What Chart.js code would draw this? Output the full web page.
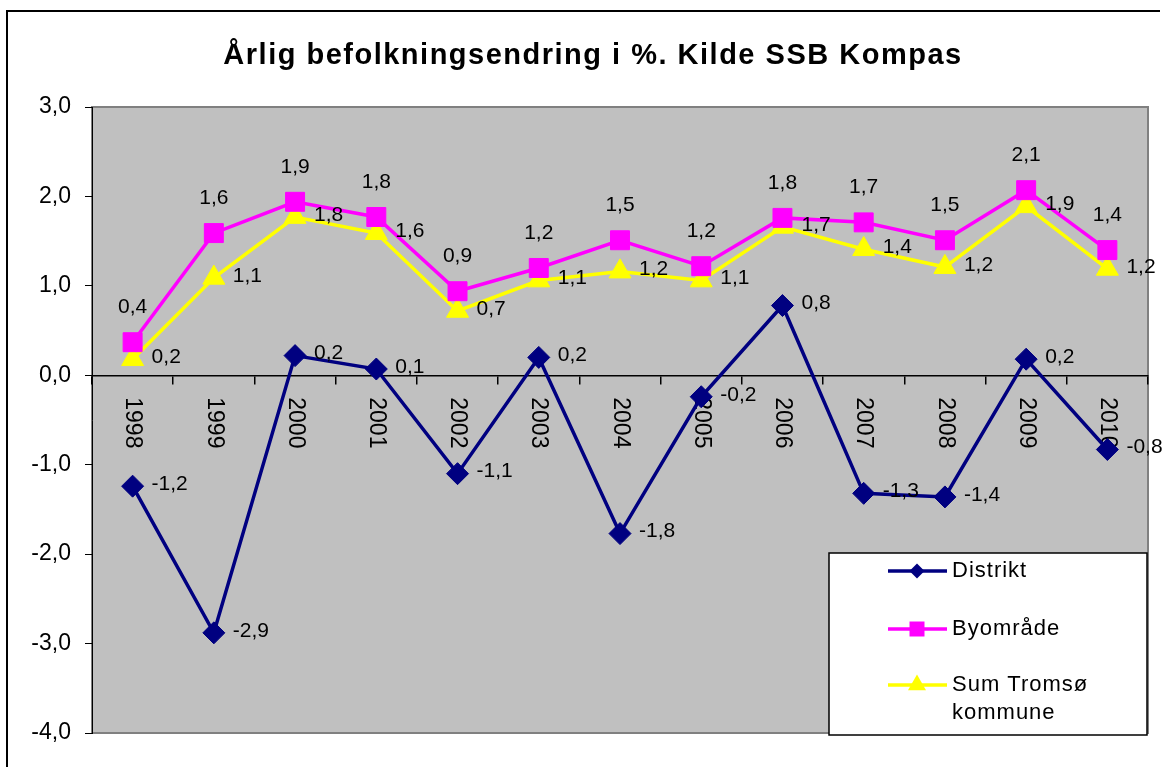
<!DOCTYPE html>
<html><head><meta charset="utf-8">
<script src="https://cdn.jsdelivr.net/npm/chart.js@4.4.0/dist/chart.umd.min.js"></script>
<style>html,body{margin:0;padding:0;background:#fff;}canvas{display:block;}</style>
</head><body>
<canvas id="c" width="1164" height="767"></canvas>
<script>
// ---- data ----
const categories = ['1998','1999','2000','2001','2002','2003','2004','2005','2006','2007','2008','2009','2010'];
const distrikt  = [-1.24, -2.88, 0.22, 0.07, -1.10, 0.20, -1.77, -0.24, 0.78, -1.32, -1.36, 0.18, -0.83];
const byomrade  = [0.37, 1.59, 1.94, 1.77, 0.94, 1.20, 1.51, 1.22, 1.76, 1.71, 1.51, 2.07, 1.40];
const sumTromso = [0.18, 1.09, 1.77, 1.59, 0.72, 1.06, 1.16, 1.06, 1.66, 1.41, 1.21, 1.89, 1.19];
const yTicks = [-4, -3, -2, -1, 0, 1, 2, 3];
const titleText = 'Årlig befolkningsendring i %. Kilde SSB Kompas';
const seriesNames = ['Distrikt', 'Byområde', 'Sum Tromsø kommune'];

const FONT = '"Liberation Sans", Arial, sans-serif';
const fmt = v => v.toFixed(1).replace('.', ',');

const styles = [
  {color:'#000080', pointStyle:'rectRot', radius:11, legendR:7.5, label:'right'},
  {color:'#FF00FF', pointStyle:'rect', radius:13.4, legendR:10.6, label:'above'},
  {color:'#FFFF00', pointStyle:'triangle', radius:12.7, legendR:10.4, label:'right'}
];
const seriesData = [distrikt, byomrade, sumTromso];

function drawMarker(ctx, style, x, y, r) {
  ctx.beginPath();
  if (style === 'rectRot') {
    ctx.moveTo(x, y - r); ctx.lineTo(x + r, y); ctx.lineTo(x, y + r); ctx.lineTo(x - r, y);
  } else if (style === 'rect') {
    const s = r * Math.SQRT1_2; ctx.rect(x - s, y - s, 2 * s, 2 * s);
  } else {
    ctx.moveTo(x, y - r);
    ctx.lineTo(x + r * Math.sin(2 * Math.PI / 3), y - r * Math.cos(2 * Math.PI / 3));
    ctx.lineTo(x + r * Math.sin(4 * Math.PI / 3), y - r * Math.cos(4 * Math.PI / 3));
  }
  ctx.closePath(); ctx.fill();
}

const decor = {
  id: 'decor',
  beforeDraw(chart) {
    const ctx = chart.ctx, a = chart.chartArea;
    ctx.save();
    ctx.fillStyle = '#fff'; ctx.fillRect(0, 0, chart.width, chart.height);
    // outer frame
    ctx.strokeStyle = '#000'; ctx.lineWidth = 2;
    ctx.beginPath(); ctx.moveTo(7, chart.height + 2); ctx.lineTo(7, 11); ctx.lineTo(1160, 11); ctx.stroke();
    // plot area
    ctx.fillStyle = '#C0C0C0'; ctx.fillRect(a.left, a.top, a.right - a.left, a.bottom - a.top);
    ctx.strokeStyle = '#808080'; ctx.lineWidth = 2;
    ctx.strokeRect(a.left, a.top, a.right - a.left, a.bottom - a.top);
    // title
    ctx.fillStyle = '#000'; ctx.font = 'bold 29px ' + FONT;
    ctx.letterSpacing = '1.5px';
    ctx.textAlign = 'center'; ctx.textBaseline = 'middle';
    ctx.fillText(titleText, 593, 56);
    ctx.restore();
  },
  beforeDatasetsDraw(chart) {
    const ctx = chart.ctx, xs = chart.scales.x, ys = chart.scales.y;
    const y0 = ys.getPixelForValue(0);
    ctx.save();
    ctx.fillStyle = '#000'; ctx.font = '23px ' + FONT;
    ctx.textAlign = 'left'; ctx.textBaseline = 'middle';
    categories.forEach((c, i) => {
      const x = xs.getPixelForValue(i);
      ctx.save(); ctx.translate(x, y0 + 22); ctx.rotate(Math.PI / 2);
      ctx.fillText(c, 0, 0); ctx.restore();
    });
    ctx.restore();
  },
  afterDatasetsDraw(chart) {
    const ctx = chart.ctx;
    ctx.save();
    ctx.fillStyle = '#000'; ctx.font = '21px ' + FONT; ctx.textBaseline = 'middle';
    chart.data.datasets.forEach((ds, i) => {
      const meta = chart.getDatasetMeta(i);
      meta.data.forEach((pt, j) => {
        const t = fmt(ds.data[j]);
        if (styles[i].label === 'above') { ctx.textAlign = 'center'; ctx.fillText(t, pt.x, pt.y - 35); }
        else { ctx.textAlign = 'left'; ctx.fillText(t, pt.x + 19, pt.y - 2); }
      });
    });
    ctx.restore();
  },
  afterDraw(chart) {
    const ctx = chart.ctx;
    ctx.save();
    // legend box
    const L = 829, T = 553, R = 1147, B = 735;
    ctx.fillStyle = '#fff'; ctx.fillRect(L, T, R - L, B - T);
    ctx.strokeStyle = '#000'; ctx.lineWidth = 1.5; ctx.strokeRect(L, T, R - L, B - T);
    const rows = [571, 629, 685];
    ctx.font = '22px ' + FONT; ctx.letterSpacing = '1px';
    ctx.textAlign = 'left'; ctx.textBaseline = 'middle';
    chart.data.datasets.forEach((ds, i) => {
      const y = rows[i], st = styles[i];
      ctx.strokeStyle = st.color; ctx.lineWidth = 3.5;
      ctx.beginPath(); ctx.moveTo(888, y); ctx.lineTo(947, y); ctx.stroke();
      ctx.fillStyle = st.color; drawMarker(ctx, st.pointStyle, 917, y, st.legendR);
      ctx.fillStyle = '#000';
      const words = ds.label.split(' ');
      if (words.length > 2) {
        ctx.fillText(words.slice(0, 2).join(' '), 952, y);
        ctx.fillText(words.slice(2).join(' '), 952, y + 28);
      } else ctx.fillText(ds.label, 952, y);
    });
    ctx.restore();
  }
};

new Chart(document.getElementById('c'), {
  type: 'line',
  data: {
    labels: categories,
    datasets: seriesData.map((d, i) => ({
      label: seriesNames[i], data: d,
      borderColor: styles[i].color, backgroundColor: styles[i].color,
      borderWidth: 3.5, tension: 0, fill: false,
      pointStyle: styles[i].pointStyle, pointRadius: styles[i].radius,
      pointBackgroundColor: styles[i].color, pointBorderColor: styles[i].color, pointBorderWidth: 1,
      pointHoverRadius: styles[i].radius
    }))
  },
  options: {
    responsive: false, animation: false, devicePixelRatio: 1,
    layout: {padding: {left: 0, top: 107, right: 16, bottom: 34}},
    plugins: {legend: {display: false}, tooltip: {enabled: false}, title: {display: false}},
    scales: {
      x: {
        type: 'category', position: {y: 0}, offset: true,
        grid: {offset: true, drawOnChartArea: false, drawTicks: true, tickLength: 8, color: '#000', lineWidth: 1.5},
        border: {color: '#000', width: 1.5},
        ticks: {display: false}
      },
      y: {
        min: -4, max: 3,
        afterBuildTicks: s => { s.ticks = yTicks.map(v => ({value: v})); },
        afterFit: s => { s.width = 92; },
        grid: {drawOnChartArea: false, drawTicks: true, tickLength: 7, color: '#000', lineWidth: 1},
        border: {color: '#000', width: 1},
        ticks: {font: {family: FONT, size: 23}, color: '#000', padding: 14, callback: v => fmt(v)}
      }
    }
  },
  plugins: [decor]
});
</script>
</body></html>
